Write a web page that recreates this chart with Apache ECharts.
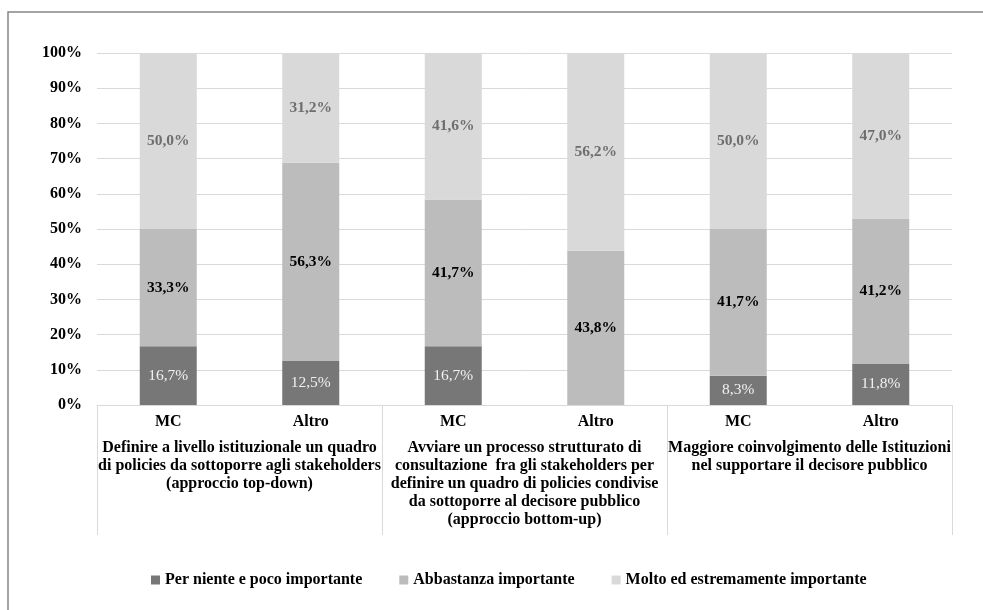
<!DOCTYPE html>
<html>
<head>
<meta charset="utf-8">
<script src="https://cdn.jsdelivr.net/npm/echarts@6/dist/echarts.min.js"></script>
<style>
  html, body { margin: 0; padding: 0; background: #ffffff; }
  #chart { width: 983px; height: 610px; }
</style>
</head>
<body>
<div id="chart"></div>
<script>
// Sub-categories (one bar each) and the three proposals they belong to
const respondents = ['MC', 'Altro', 'MC', 'Altro', 'MC', 'Altro'];
const proposals = [
  'Definire a livello istituzionale un quadro\ndi policies da sottoporre agli stakeholders\n(approccio top-down)',
  'Avviare un processo strutturato di\nconsultazione  fra gli stakeholders per\ndefinire un quadro di policies condivise\nda sottoporre al decisore pubblico\n(approccio bottom-up)',
  'Maggiore coinvolgimento delle Istituzioni\nnel supportare il decisore pubblico'
];

// Shares of answers (%) per bar
const perNiente = [16.7, 12.5, 16.7, 0, 8.3, 11.8];
const abbastanza = [33.3, 56.3, 41.7, 43.8, 41.7, 41.2];
const molto = [50.0, 31.2, 41.6, 56.2, 50.0, 47.0];

const seriesNames = [
  'Per niente e poco importante',
  'Abbastanza importante',
  'Molto ed estremamente importante'
];

const FONT = '"Liberation Serif", "Times New Roman", serif';

function pct(p) {
  if (!p.value) return '';
  return p.value.toFixed(1).replace('.', ',') + '%';
}

function barSeries(name, data, color, labelColor, bold) {
  return {
    name: name,
    type: 'bar',
    stack: 'total',
    data: data,
    barCategoryGap: '60%',
    itemStyle: { color: color },
    label: {
      show: true,
      position: 'inside',
      formatter: pct,
      color: labelColor,
      fontFamily: FONT,
      fontSize: 15.5,
      fontWeight: bold ? 'bold' : 'normal'
    },
    emphasis: { disabled: true }
  };
}

const chart = echarts.init(document.getElementById('chart'), null, { renderer: 'canvas' });

chart.setOption({
  backgroundColor: '#ffffff',
  animation: false,
  textStyle: { fontFamily: FONT },
  graphic: [{
    type: 'rect',
    shape: { x: 8, y: 12, width: 1100, height: 800 },
    style: { fill: null, stroke: '#868686', lineWidth: 1.5 },
    silent: true,
    z: 100
  }],
  grid: { left: 97, right: 31, top: 53, bottom: 205 },
  legend: {
    bottom: 17,
    left: 146,
    itemWidth: 9,
    itemHeight: 9,
    itemGap: 37,
    icon: 'rect',
    textStyle: { fontFamily: FONT, fontSize: 16, fontWeight: 'bold', color: '#000000' },
    data: seriesNames
  },
  xAxis: [
    {
      type: 'category',
      position: 'bottom',
      data: respondents,
      axisLine: { show: true, lineStyle: { color: '#d9d9d9', width: 1 } },
      axisTick: { show: false },
      axisLabel: {
        interval: 0,
        margin: 9,
        color: '#000000',
        fontFamily: FONT,
        fontSize: 16,
        fontWeight: 'bold'
      }
    },
    {
      type: 'category',
      position: 'bottom',
      data: proposals,
      axisLine: { show: false },
      axisTick: { show: true, length: 130, lineStyle: { color: '#d9d9d9', width: 1 } },
      axisLabel: {
        interval: 0,
        margin: 34,
        color: '#000000',
        fontFamily: FONT,
        fontSize: 16,
        fontWeight: 'bold',
        lineHeight: 18,
        align: 'center'
      }
    }
  ],
  yAxis: {
    type: 'value',
    min: 0,
    max: 100,
    interval: 10,
    axisLine: { show: false },
    axisTick: { show: false },
    splitLine: { lineStyle: { color: '#d9d9d9', width: 1 } },
    axisLabel: {
      formatter: '{value}%',
      margin: 15,
      color: '#000000',
      fontFamily: FONT,
      fontSize: 16,
      fontWeight: 'bold'
    }
  },
  series: [
    barSeries(seriesNames[0], perNiente, '#777777', '#f0f0f0', false),
    barSeries(seriesNames[1], abbastanza, '#bcbcbc', '#000000', true),
    barSeries(seriesNames[2], molto, '#d9d9d9', '#6e6e6e', true)
  ]
});
</script>
</body>
</html>
